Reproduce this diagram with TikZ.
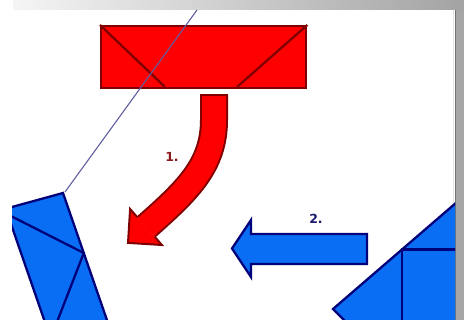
\documentclass[tikz,border=0pt]{standalone}
\usepackage{fontspec}
\setmainfont{DejaVu Sans}
\definecolor{dred}{HTML}{800000}
\definecolor{bfill}{HTML}{0A6EF5}
\definecolor{navy}{HTML}{00007A}
\definecolor{pline}{HTML}{5E5EA0}
\definecolor{lab1}{HTML}{8B1A1A}
\definecolor{lab2}{HTML}{1A1A6E}
\tikzset{
  redshape/.style={fill=red, draw=dred, line width=2.3pt, line join=miter},
  redline/.style={draw=dred, line width=2.3pt},
  blueshape/.style={fill=bfill, draw=navy, line width=2.3pt, line join=miter},
  blueline/.style={draw=navy, line width=2.3pt},
  lbl/.style={font=\bfseries\fontsize{12.5}{13}\selectfont, inner sep=0pt}
}
\begin{document}
\begin{tikzpicture}[x=1pt,y=-1pt]
\useasboundingbox (0,0) rectangle (464,320);
\fill[white] (0,0) rectangle (464,320);
% top band and right strip
\shade[left color=black!4, middle color=black!20, right color=black!36] (13,0) rectangle (464,10);
\fill[black!35] (455,10) rectangle (464,320);
\draw[black!55, line width=1pt] (455.5,10) -- (455.5,320);
\draw[black!10, line width=1pt] (453.5,10) -- (453.5,320);
\begin{scope}
\clip (12,10) rectangle (455,320);
% red rectangle
\node[redshape, minimum width=205pt, minimum height=62pt, inner sep=0pt, anchor=north west] (rrect) at (100,25) {};
\coordinate (rb1) at (165,87);
\coordinate (rb2) at (237,87);
\draw[redline] (rrect.north west) -- (rb1);
\draw[redline] (rrect.north east) -- (rb2);
% purple thin line
\coordinate (pt) at (197,10);
\coordinate (pb) at (65,192);
\draw[pline, line width=1.1pt] (pt) -- (pb);
% left blue shape
\coordinate (ltl) at (5.7,208.7);
\coordinate (ltr) at (63,193);
\coordinate (lbr) at (128.4,382);
\coordinate (lbl) at (71.1,397.7);
\draw[blueshape] (ltl) -- (ltr) -- (lbr) -- (lbl) -- cycle;
\coordinate (la) at (7.9,214.5);
\coordinate (lm) at (83.8,253);
\coordinate (lz) at (50,340);
\draw[blueline] (la) -- (lm) -- (lz);
% right blue shape
\coordinate (rc) at (333,309);
\coordinate (rtr) at (470,190.8);
\coordinate (rbr) at (470,335);
\coordinate (rbl) at (359,335);
\draw[blueshape] (rc) -- (rtr) -- (rbr) -- (rbl) -- cycle;
\coordinate (rm) at (402,249.5);
\coordinate (rv) at (402,335);
\coordinate (rh) at (470,249.5);
\draw[blueline] (rv) -- (rm) -- (rh);
% blue arrow
\draw[blueshape] (232,248.5) -- (251,220) -- (251,234) -- (367,234) -- (367,264) -- (251,264) -- (251,277) -- cycle;
% red curved arrow
\coordinate (s0) at (214,95);
\coordinate (s1) at (214,120);
\coordinate (E) at (146,227);
\draw[draw=dred, line width=2pt, double=red, double distance=24pt] (s0) -- (s1) .. controls (214,165) and (188,190) .. (E);
\draw[dred, line width=2pt] (200,95) -- (228,95);
\coordinate (w1) at (130.1,209);
\coordinate (tip) at (128,242.9);
\coordinate (w2) at (161.9,245);
\coordinate (lp) at (137.2,217.1);
\coordinate (rp) at (154.8,236.9);
\fill[red] (w1) -- (tip) -- (w2) -- cycle;
\draw[dred, line width=2pt, line join=miter] (lp) -- (w1) -- (tip) -- (w2) -- (rp);
\end{scope}
% labels
\node[lbl, text=lab1] (l1) at (172,157) {1.};
\node[lbl, text=lab2] (l2) at (316,219) {2.};
\end{tikzpicture}
\end{document}
